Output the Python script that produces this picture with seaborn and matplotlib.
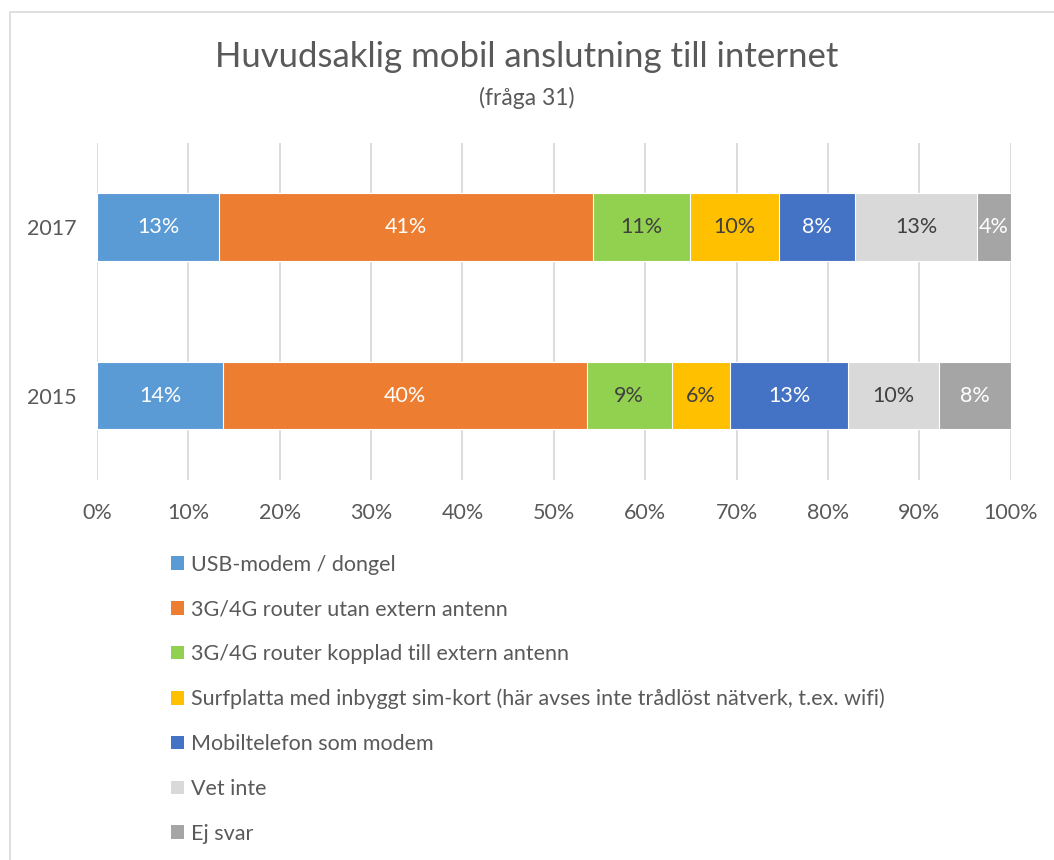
import pandas as pd
import matplotlib.pyplot as plt
import seaborn as sns
from matplotlib.patches import Rectangle, Patch

sns.set_style('white')
plt.rcParams['font.family'] = ['Lato', 'DejaVu Sans']

years = ['2017', '2015']
categories = [
    'USB-modem / dongel',
    '3G/4G router utan extern antenn',
    '3G/4G router kopplad till extern antenn',
    'Surfplatta med inbyggt sim-kort (här avses inte trådlöst nätverk, t.ex. wifi)',
    'Mobiltelefon som modem',
    'Vet inte',
    'Ej svar',
]
values_2017 = [13.4, 40.9, 10.6, 9.7, 8.4, 13.3, 3.7]
values_2015 = [13.8, 39.8, 9.3, 6.4, 12.9, 9.9, 7.9]

colors = ['#5B9BD5', '#ED7D31', '#92D050', '#FFC000', '#4472C4', '#D9D9D9', '#A5A5A5']
label_colors = ['white', 'white', '#404040', '#404040', 'white', '#404040', 'white']
TEXT = '#595959'

# long table with cumulative ends for stacking
rows = []
for year, vals in zip(years, [values_2017, values_2015]):
    total = 0
    for cat, v in zip(categories, vals):
        total += v
        rows.append({'year': year, 'cat': cat, 'value': v, 'end': total})
df = pd.DataFrame(rows)

fig = plt.figure(figsize=(10.54, 8.6), dpi=100)
ax = fig.add_axes([0.092, 0.442, 0.867, 0.392])

# draw from the outermost segment inward so each shorter bar sits on top
for cat, col in reversed(list(zip(categories, colors))):
    sub = df[df['cat'] == cat]
    sns.barplot(data=sub, x='end', y='year', order=years, orient='h',
                color=col, width=0.4, edgecolor='white', linewidth=0.8,
                saturation=1, ax=ax)

for i, year in enumerate(years):
    sub = df[df['year'] == year]
    for (_, r), tc in zip(sub.iterrows(), label_colors):
        ax.text(r['end'] - r['value'] / 2, i, f"{r['value']:.0f}%",
                ha='center', va='center', color=tc, fontsize=15.5)

ax.set_xlim(0, 100)
ax.set_ylim(1.5, -0.5)
ax.set_xticks(range(0, 101, 10))
ax.set_xticklabels([f'{t}%' for t in range(0, 101, 10)])
ax.tick_params(axis='both', labelsize=15.5, colors=TEXT, length=0)
ax.tick_params(axis='x', pad=17)
ax.tick_params(axis='y', pad=15)
ax.set_xlabel('')
ax.set_ylabel('')
ax.grid(axis='x', color='#D9D9D9', linewidth=1.3)
ax.set_axisbelow(True)
sns.despine(ax=ax, left=True, bottom=True)

fig.text(0.5, 1 - 57 / 860, 'Huvudsaklig mobil anslutning till internet',
         ha='center', va='center', fontsize=25, color=TEXT)
fig.text(0.5, 1 - 98 / 860, '(fråga 31)', ha='center', va='center',
         fontsize=16.5, color=TEXT)

handles = [Patch(facecolor=c, edgecolor='none') for c in colors]
fig.legend(handles, categories, loc='upper left',
           bbox_to_anchor=(0.154, 1 - 546 / 860), frameon=False,
           fontsize=15.5, labelcolor=TEXT, handlelength=0.6, handleheight=0.6,
           handletextpad=0.35, labelspacing=1.15, borderaxespad=0)

# chart frame (only top and left edges fall inside the image)
fig.patches.append(Rectangle((10 / 1054, -0.1), 1.2, 1 - 12 / 860 + 0.1,
                             transform=fig.transFigure, fill=False,
                             edgecolor='#D9D9D9', linewidth=1.2))

fig.savefig('out.png', dpi=100)
